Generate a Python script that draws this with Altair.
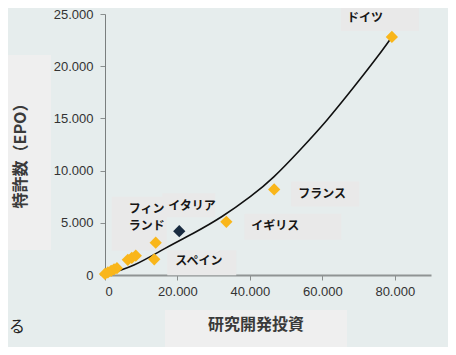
import altair as alt
import pandas as pd

# ---- data ----
names = ["ドイツ", "フランス", "イギリス", "イタリア", "フィンランド", "スペイン",
         "", "", "", "", "", "", "", ""]
rd_investment = [79200, 46700, 33500, 20500, 14000, 13600,
                 8500, 7400, 6300, 3300, 2500, 1700, 800, 0]
patents = [22800, 8200, 5100, 4200, 3100, 1500,
           1850, 1650, 1450, 650, 550, 400, 250, 100]
highlight = [False, False, False, True, False, False,
             False, False, False, False, False, False, False, False]

# trend line
curve_x = [0, 8000, 16600, 24400, 32300, 40100, 46600, 53900, 61300, 68700, 75200, 79200]
curve_y = [0, 950, 2550, 4000, 5600, 7500, 9400, 12000, 14850, 18000, 20900, 22800]

x_ticks = [0, 20000, 40000, 60000, 80000]
y_ticks = [0, 5000, 10000, 15000, 20000, 25000]

x_title = "研究開発投資"
y_title = "特許数（EPO）"

# label styling: name -> (box x1, x2, y1, y2 offsets in px), text lines (text, dx, dy)
label_style = {
    "ドイツ": ((-51, 27, -32, -6), [("ドイツ", -45, -19)]),
    "フランス": ((17, 85, -8, 17), [("フランス", 24, 5)]),
    "イギリス": ((18, 115, -8, 18), [("イギリス", 25, 4)]),
    "スペイン": ((13, 82, -9, 16), [("スペイン", 21, 2)]),
    "イタリア": ((-17, 36, -38, -14), [("イタリア", -11, -25)]),
    "フィンランド": ((-44, 11, -46, 8), [("フィン", -27, -34), ("ランド", -27, -17)]),
}

BG = "#E6EDED"
BOX = "#E9E9E9"
ORANGE = "#F9B61A"
NAVY = "#182B40"
JP = "Noto Sans CJK JP"

df = pd.DataFrame({"name": names, "x": rd_investment, "y": patents, "hl": highlight})
curve = pd.DataFrame({"x": curve_x, "y": curve_y})

xs = alt.Scale(domain=[0, 90000], nice=False, zero=True)
ys = alt.Scale(domain=[0, 25000], nice=False, zero=True)

fmt = "replace(format(datum.value, ','), ',', '.')"

base = alt.Chart(df)

points = base.mark_point(shape="diamond", filled=True, size=150, opacity=1).encode(
    x=alt.X("x:Q", scale=xs,
            axis=alt.Axis(values=x_ticks, title=None, labelExpr=fmt, grid=False,
                          domainWidth=2, domainColor="#8f9494", labelPadding=5)),
    y=alt.Y("y:Q", scale=ys,
            axis=alt.Axis(values=y_ticks, title=None, labelExpr=fmt, grid=False,
                          domainColor="#7a7f7f", labelPadding=7)),
    color=alt.Color("hl:N", scale=alt.Scale(domain=[False, True], range=[ORANGE, NAVY]),
                    legend=None),
)

line = alt.Chart(curve).mark_line(color="#111111", strokeWidth=1.6,
                                  interpolate="natural").encode(
    x=alt.X("x:Q", scale=xs), y=alt.Y("y:Q", scale=ys))

boxes = []
texts = []
for nm, (box, lines) in label_style.items():
    sub = base.transform_filter(alt.datum.name == nm)
    x1, x2, y1, y2 = box
    boxes.append(sub.mark_rect(color=BOX, xOffset=x1, x2Offset=x2,
                               yOffset=y1, y2Offset=y2).encode(
        x=alt.X("x:Q", scale=xs), x2="x:Q", y=alt.Y("y:Q", scale=ys), y2="y:Q"))
    for txt, dx, dy in lines:
        texts.append(sub.mark_text(text=txt, dx=dx, dy=dy, align="left",
                                   baseline="middle", font=JP, fontSize=12,
                                   fontWeight="bold", color="#161616").encode(
            x=alt.X("x:Q", scale=xs), y=alt.Y("y:Q", scale=ys)))

anno = pd.DataFrame({"k": [0]})
abase = alt.Chart(anno)
ytitle_box = abase.mark_rect(color="#EFEFEF").encode(
    x=alt.value(-97), x2=alt.value(-54), y=alt.value(41), y2=alt.value(236))
ytitle = abase.mark_text(text=y_title, angle=270, font=JP, fontSize=16,
                         fontWeight="bold", color="#3a3a3a",
                         align="center", baseline="middle").encode(
    x=alt.value(-84), y=alt.value(138))
xtitle_box = abase.mark_rect(color="#EFEFEF").encode(
    x=alt.value(60), x2=alt.value(242), y=alt.value(296), y2=alt.value(333))
xtitle = abase.mark_text(text=x_title, font=JP, fontSize=16, fontWeight="bold",
                         color="#3a3a3a", align="center", baseline="middle").encode(
    x=alt.value(151), y=alt.value(311))
frag = abase.mark_text(text="る", font=JP, fontSize=16, color="#222222",
                       align="left", baseline="middle").encode(
    x=alt.value(-96), y=alt.value(313))

chart = alt.layer(
    ytitle_box, xtitle_box, *boxes, line, points, *texts, ytitle, xtitle, frag
).properties(
    width=326, height=261,
    autosize=alt.AutoSizeParams(type="none"),
    padding={"left": 97, "top": 6, "right": 17, "bottom": 72},
    background=BG,
).configure_view(
    fill=BG, stroke=None, clip=False
).configure_axis(
    labelFont="Liberation Sans", labelFontSize=13, labelColor="#333333",
    tickColor="#8a8f8f", tickSize=5, tickWidth=1,
)

chart.save("out.html", embed_options={"renderer": "svg", "actions": False})
